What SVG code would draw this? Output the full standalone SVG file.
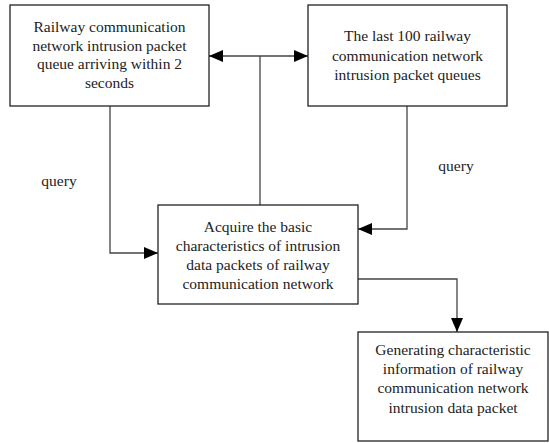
<svg xmlns="http://www.w3.org/2000/svg" width="549" height="443" viewBox="0 0 549 443">
<style>
.box{fill:#fff;stroke:#222;stroke-width:1.3}
.t{font-family:"Liberation Serif","Times New Roman",serif;font-size:15.5px;fill:#222;text-anchor:middle}
.c{fill:none;stroke:#444;stroke-width:1.3}
</style>
<defs>
<marker id="ah" viewBox="0 0 14 12" refX="14" refY="6" markerWidth="14" markerHeight="12" markerUnits="userSpaceOnUse" orient="auto-start-reverse">
<path d="M0,0 L14,6 L0,12 z" fill="#000"/>
</marker>
</defs>
<rect width="549" height="443" fill="#fff"/>
<g id="connectors">
<path class="c" d="M209,56 H308" marker-start="url(#ah)" marker-end="url(#ah)"/>
<path class="c" d="M260,56 V205"/>
<path class="c" d="M110,106 V253 H158" marker-end="url(#ah)"/>
<path class="c" d="M407,106 V229 H358" marker-end="url(#ah)"/>
<path class="c" d="M358,279 H457 V332" marker-end="url(#ah)"/>
<text class="t" x="59" y="186">query</text>
<text class="t" x="456" y="171">query</text>
</g>
<g id="n1">
<rect class="box" x="10" y="5" width="199" height="101"/>
<text class="t" x="109.5" y="32">Railway communication</text>
<text class="t" x="109.5" y="50.5">network intrusion packet</text>
<text class="t" x="109.5" y="69">queue arriving within 2</text>
<text class="t" x="109.5" y="87.5">seconds</text>
</g>
<g id="n2">
<rect class="box" x="308" y="5" width="199" height="101"/>
<text class="t" x="407.5" y="41">The last 100 railway</text>
<text class="t" x="407.5" y="60.5">communication network</text>
<text class="t" x="407.5" y="80">intrusion packet queues</text>
</g>
<g id="n3">
<rect class="box" x="158" y="205" width="200" height="99"/>
<text class="t" x="258" y="232">Acquire the basic</text>
<text class="t" x="258" y="251">characteristics of intrusion</text>
<text class="t" x="258" y="270">data packets of railway</text>
<text class="t" x="258" y="289">communication network</text>
</g>
<g id="n4">
<rect class="box" x="358" y="332" width="190" height="109"/>
<text class="t" x="453" y="355">Generating characteristic</text>
<text class="t" x="453" y="374">information of railway</text>
<text class="t" x="453" y="393">communication network</text>
<text class="t" x="453" y="413">intrusion data packet</text>
</g>
</svg>
